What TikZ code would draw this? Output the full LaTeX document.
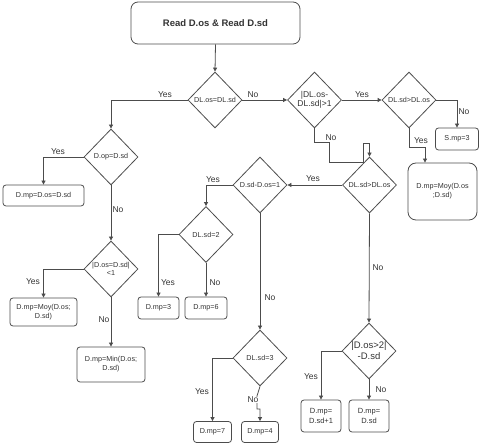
\documentclass[tikz,border=0pt]{standalone}
\usepackage{fontspec}
\setmainfont{Liberation Sans}
\usetikzlibrary{shapes.geometric,arrows.meta}
\begin{document}
\begin{tikzpicture}[x=1pt,y=-1pt,
  line width=0.8pt,
  every node/.style={text=black!80},
  ln/.style={draw=black!70},
  arr/.style={draw=black!70,-{Triangle[length=4pt,width=4pt]}},
  dia/.style={draw=black!70,shape=diamond,inner sep=0pt,minimum width=54pt,minimum height=56pt,font=\fontsize{7.2}{8}\selectfont,align=center},
  dialg/.style={dia,font=\fontsize{8.5}{9.5}\selectfont},
  box/.style={draw=black!70,rounded corners=3pt,inner sep=0pt,align=center,font=\fontsize{7.2}{9}\selectfont},
  lab/.style={font=\fontsize{8.5}{9}\selectfont,inner sep=0.5pt}
]
\useasboundingbox (0,0) rectangle (480,446);
% nodes
\node[box,rounded corners=7pt,minimum width=169pt,minimum height=42pt,font=\bfseries\fontsize{9.5}{10}\selectfont] (start) at (215.5,23) {Read D.os \& Read D.sd};
\node[dia] (d1) at (215,100) {DL.os=DL.sd};
\node[dia] (d2) at (111,157) {D.op=D.sd};
\node[box,minimum width=81pt,minimum height=21pt] (b1) at (43.5,195.5) {D.mp=D.os=D.sd};
\node[dia] (d3) at (111,269) {|D.os=D.sd|\\<1};
\node[box,minimum width=67pt,minimum height=28pt] (b2) at (43.5,312) {D.mp=Moy(D.os;\\D.sd)};
\node[box,minimum width=68pt,minimum height=35pt] (b3) at (111,364.5) {D.mp=Min(D.os;\\D.sd)};
\node[dialg] (d4) at (314.5,100) {|DL.os-\\DL.sd|>1};
\node[dia] (d5) at (409,100) {DL.sd>DL.os};
\node[box,minimum width=43pt,minimum height=22pt] (s3) at (457,139) {S.mp=3};
\node[box,rounded corners=8pt,minimum width=69pt,minimum height=57pt] (b4) at (442.5,191.5) {D.mp=Moy(D.os\\;D.sd)};
\node[dia] (d6) at (369.5,185) {DL.sd>DL.os};
\node[dia] (d7) at (260,185) {D.sd-D.os=1};
\node[dia] (d8) at (206,234.5) {DL.sd=2};
\node[box,minimum width=41pt,minimum height=22pt] (b5) at (158.5,308) {D.mp=3};
\node[box,minimum width=42pt,minimum height=22pt] (b6) at (206,308) {D.mp=6};
\node[dia] (d9) at (260,358) {DL.sd=3};
\node[box,minimum width=38pt,minimum height=21pt] (b7) at (212.5,432) {D.mp=7};
\node[box,minimum width=37pt,minimum height=21pt] (b8) at (260,432) {D.mp=4};
\node[dialg,font=\fontsize{9.5}{11}\selectfont] (d10) at (369,351) {|D.os>2|\\-D.sd};
\node[box,minimum width=40pt,minimum height=32pt,font=\fontsize{7.5}{9.5}\selectfont] (b9) at (321,416) {D.mp=\\D.sd+1};
\node[box,minimum width=40pt,minimum height=32pt,font=\fontsize{7.5}{9.5}\selectfont] (b10) at (369,416) {D.mp=\\D.sd};
% helper coordinates
\coordinate (cY5) at (425,147);
\coordinate (n1) at (314.5,142);
\coordinate (n2) at (329,142);
\coordinate (n3) at (329,162);
\coordinate (n4) at (363,162);
\coordinate (n5) at (363,143);
\coordinate (n6) at (369.5,143);
\coordinate (j1) at (257,396);
\coordinate (j2) at (257,409);
\coordinate (j3) at (260,409);
% connectors
\draw[arr] (start.south) -- (d1.north);
\draw[arr] (d1.west) -| (d2.north);
\draw[arr] (d2.west) -| (b1.north);
\draw[arr] (d2.south) -- (d3.north);
\draw[arr] (d3.west) -| (b2.north);
\draw[arr] (d3.south) -- (b3.north);
\draw[arr] (d1.east) -- (d4.west);
\draw[arr] (d4.east) -- (d5.west);
\draw[arr] (d5.east) -| (s3.north);
\draw[arr] (d5.south) |- (cY5) -- (cY5 |- b4.north);
\draw[arr] (d4.south) -- (n1) -- (n2) -- (n3) -- (n4) -- (n5) -- (n6) -- (d6.north);
\draw[arr] (d6.west) -- (d7.east);
\draw[arr] (d7.west) -| (d8.north);
\draw[arr] (d8.west) -| (b5.north);
\draw[arr] (d8.south) -- (b6.north);
\draw[arr] (d7.south) -- (d9.north);
\draw[arr] (d9.west) -| (b7.north);
\draw[arr] (d9.south) -- (j1) -- (j2) -- (j3) -- (b8.north);
\draw[arr] (d6.south) -- (d10.north);
\draw[arr] (d10.west) -| (b9.north);
\draw[arr] (d10.south) -- (b10.north);
% labels
\node[lab] (l1) at (165,95) {Yes};
\node[lab] (l2) at (58,152) {Yes};
\node[lab] (l3) at (118,210) {No};
\node[lab] (l4) at (33,282) {Yes};
\node[lab] (l5) at (104,320) {No};
\node[lab] (l6) at (253,95) {No};
\node[lab] (l7) at (362,95) {Yes};
\node[lab] (l8) at (464,112) {No};
\node[lab] (l9) at (421,141) {Yes};
\node[lab] (l10) at (331,138) {No};
\node[lab] (l11) at (313,179) {Yes};
\node[lab] (l12) at (213,180) {Yes};
\node[lab] (l13) at (168,283) {Yes};
\node[lab] (l14) at (215,283) {No};
\node[lab] (l15) at (270,298) {No};
\node[lab] (l16) at (202,392) {Yes};
\node[lab,fill=white] (l17) at (253,400) {No};
\node[lab] (l18) at (378,268) {No};
\node[lab] (l19) at (311,377) {Yes};
\node[lab] (l20) at (381,390) {No};
\end{tikzpicture}
\end{document}
